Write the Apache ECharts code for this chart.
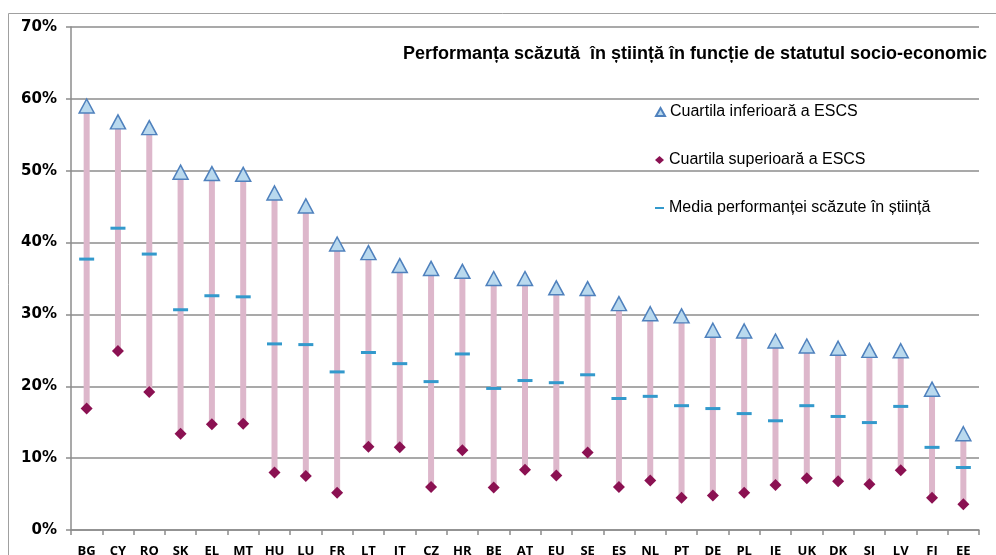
<!DOCTYPE html>
<html>
<head>
<meta charset="utf-8">
<script src="https://cdn.jsdelivr.net/npm/echarts@6/dist/echarts.min.js"></script>
<style>html,body{margin:0;padding:0;background:#fff}#c{width:996px;height:555px}</style>
</head>
<body>
<div id="c"></div>
<script>
const categories = ['BG','CY','RO','SK','EL','MT','HU','LU','FR','LT','IT','CZ','HR','BE','AT','EU','SE','ES','NL','PT','DE','PL','IE','UK','DK','SI','LV','FI','EE'];
const lowerQuartile = [59.0,56.8,56.0,49.8,49.6,49.5,46.9,45.1,39.8,38.6,36.8,36.4,36.0,35.0,35.0,33.7,33.6,31.5,30.1,29.8,27.8,27.7,26.3,25.6,25.3,25.0,24.95,19.6,13.4];
const upperQuartile = [16.9,24.9,19.2,13.4,14.7,14.8,8.0,7.5,5.2,11.6,11.5,6.0,11.1,5.9,8.4,7.6,10.8,6.0,6.9,4.5,4.8,5.2,6.25,7.2,6.8,6.35,8.3,4.5,3.6];
const meanLow = [37.7,42.0,38.4,30.65,32.6,32.45,25.9,25.8,22.0,24.7,23.15,20.65,24.5,19.7,20.8,20.5,21.6,18.3,18.6,17.3,16.9,16.2,15.2,17.3,15.8,14.95,17.2,11.5,8.7];
const yTicks = [0,10,20,30,40,50,60,70];

const titleText = 'Performanța scăzută  în știință în funcție de statutul socio-economic';
const nameLow = 'Cuartila inferioară a ESCS';
const nameHigh = 'Cuartila superioară a ESCS';
const nameMean = 'Media performanței scăzute în știință';

const chart = echarts.init(document.getElementById('c'), null, {renderer:'canvas'});
const rangeData = categories.map((c,i)=>[i, upperQuartile[i], lowerQuartile[i]]);
const legendText = {fontFamily:'Liberation Sans, Arial, sans-serif', fontSize:16, color:'#000', lineHeight:18};

chart.setOption({
  animation:false,
  backgroundColor:'#fff',
  graphic:[{type:'rect', shape:{x:8.5,y:13.5,width:1100,height:700}, style:{fill:'none', stroke:'#a0a0a0', lineWidth:1}, z:-1}],
  title:{text:titleText, right:9, top:45, padding:0, textStyle:{fontFamily:'Liberation Sans, Arial, sans-serif', fontWeight:'bold', fontSize:18, color:'#000'}},
  legend:[
    {data:[{name:nameLow, icon:'triangle'}], left:655, top:103, padding:0, itemWidth:9, itemHeight:8, textStyle:legendText, selectedMode:false},
    {data:[{name:nameHigh, icon:'diamond'}], left:655, top:151, padding:0, itemWidth:9, itemHeight:8, textStyle:legendText, selectedMode:false},
    {data:[{name:nameMean, icon:'rect'}], left:655, top:199, padding:0, itemWidth:9, itemHeight:2, textStyle:legendText, selectedMode:false}
  ],
  grid:{left:71, right:17, top:27, bottom:25, containLabel:false, outerBoundsMode:'none'},
  xAxis:{type:'category', data:categories, boundaryGap:true,
    axisLine:{lineStyle:{color:'#8c8c8c', width:1.5}},
    axisTick:{show:true, length:5, lineStyle:{color:'#8c8c8c', width:1.5}},
    axisLabel:{interval:0, margin:15, color:'#000', fontFamily:'Open Sans, DejaVu Sans, sans-serif', fontWeight:'bold', fontSize:13}},
  yAxis:{type:'value', min:0, max:70, interval:10,
    axisLine:{show:true, lineStyle:{color:'#8c8c8c', width:1.5}},
    axisTick:{show:true, length:5, lineStyle:{color:'#8c8c8c', width:1.5}},
    splitLine:{lineStyle:{color:'#8c8c8c', width:1.5}},
    axisLabel:{margin:14, color:'#000', fontFamily:'DejaVu Sans, Verdana, sans-serif', fontWeight:'bold', fontSize:15, formatter:v=>v+'%'}},
  series:[
    {type:'custom', name:'range', data:rangeData, z:1,
      renderItem:(params, api)=>{
        const lo = api.coord([api.value(0), api.value(1)]);
        const hi = api.coord([api.value(0), api.value(2)]);
        return {type:'rect', shape:{x:lo[0]-3, y:hi[1], width:6, height:lo[1]-hi[1]}, style:{fill:'#DDB7CB'}};
      }},
    {type:'scatter', name:nameMean, data:meanLow, symbol:'rect', symbolSize:[15,3], itemStyle:{color:'#3399CC', opacity:1}, z:3},
    {type:'scatter', name:nameHigh, data:upperQuartile, symbol:'diamond', symbolSize:[12,12], itemStyle:{color:'#8B1152', opacity:1}, z:4},
    {type:'scatter', name:nameLow, data:lowerQuartile, symbol:'triangle', symbolSize:[15,14], itemStyle:{color:'#B9D9EE', borderColor:'#4F81BD', borderWidth:1.5, opacity:1}, z:5}
  ]
});
</script>
</body>
</html>
